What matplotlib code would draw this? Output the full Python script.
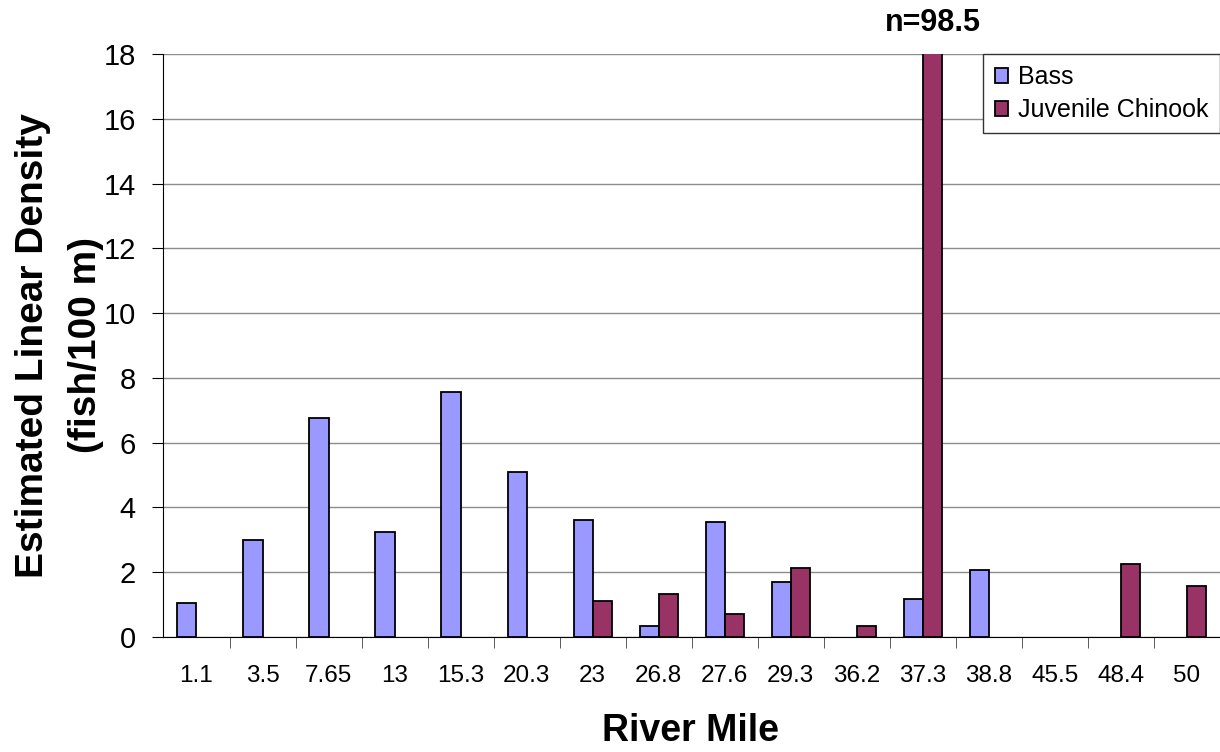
import numpy as np
import matplotlib.pyplot as plt

plt.rcParams['font.family'] = ['Liberation Sans', 'DejaVu Sans']

# data
river_mile = ['1.1', '3.5', '7.65', '13', '15.3', '20.3', '23', '26.8',
              '27.6', '29.3', '36.2', '37.3', '38.8', '45.5', '48.4', '50']
bass = [1.05, 3.0, 6.76, 3.24, 7.56, 5.09, 3.61, 0.34,
        3.55, 1.70, 0.0, 1.17, 2.07, 0.0, 0.0, 0.0]
chinook = [0.0, 0.0, 0.0, 0.0, 0.0, 0.0, 1.10, 1.33,
           0.71, 2.13, 0.34, 98.5, 0.0, 0.0, 2.25, 1.57]

fig = plt.figure(figsize=(12.2, 7.52), dpi=100)
ax = fig.add_axes([0.134, 0.153, 0.866, 0.775])

x = np.arange(len(river_mile))
w = 0.29
b_vals = np.array(bass)
c_vals = np.array(chinook)
ax.bar(x[b_vals > 0] - w/2, b_vals[b_vals > 0], w, color='#9999FF',
       edgecolor='black', linewidth=1.3, label='Bass', zorder=3)
ax.bar(x[c_vals > 0] + w/2, c_vals[c_vals > 0], w, color='#993366',
       edgecolor='black', linewidth=1.3, label='Juvenile Chinook', zorder=3)

ax.set_ylim(0, 18)
ax.set_xlim(-0.5, len(river_mile) - 0.5)
ax.set_yticks(np.arange(0, 19, 2))
ax.yaxis.grid(True, color='#8c8c8c', linewidth=1)
ax.set_axisbelow(True)

ax.set_xticks(x)
ax.set_xticklabels(river_mile, fontsize=17.5)
ax.set_xticks(np.arange(0.5, len(river_mile) - 0.5, 1), minor=True)
ax.tick_params(axis='x', which='major', length=0, pad=20)
ax.tick_params(axis='x', which='minor', length=8, color='#404040')
ax.tick_params(axis='y', labelsize=21, length=8, pad=12)

for s in ['top', 'right']:
    ax.spines[s].set_visible(False)

fig.text(0.566, 0.028, 'River Mile', fontsize=27, fontweight='bold',
         ha='center', va='center')
fig.text(0.049, 0.541, 'Estimated Linear Density\n(fish/100 m)', fontsize=28,
         fontweight='bold', rotation=90, ha='center', va='center',
         multialignment='center', linespacing=1.6)

# label for the clipped bar
i = river_mile.index('37.3')
ax.text(x[i] + w/2, 1 - 23 / 752, 'n=' + str(chinook[i]),
        transform=ax.get_xaxis_transform().__class__(ax.transData, fig.transFigure),
        ha='center', va='center', fontsize=22, fontweight='bold')

leg = ax.legend(loc='upper right', bbox_to_anchor=(1.0, 1.0), fontsize=18,
                fancybox=False, framealpha=1, edgecolor='#333333',
                handlelength=0.55, handleheight=0.55, handletextpad=0.4,
                borderaxespad=0, labelspacing=0.35, borderpad=0.45)
leg.get_frame().set_linewidth(1)

fig.savefig('out.png', dpi=100)
